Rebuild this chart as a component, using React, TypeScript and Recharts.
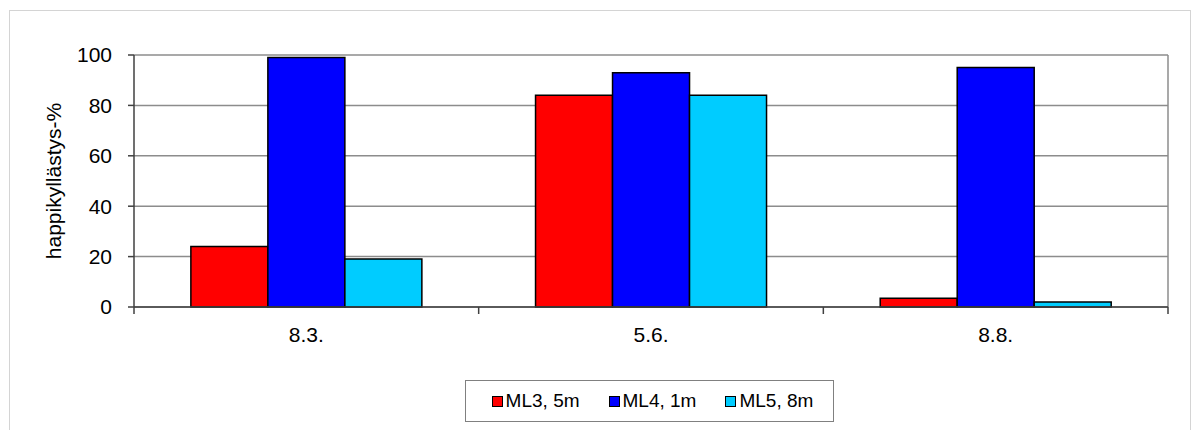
import React from "react";
import {
  BarChart,
  Bar,
  XAxis,
  YAxis,
  CartesianGrid,
} from "recharts";

const dates = ["8.3.", "5.6.", "8.8."];
const ml3 = [24, 84, 3.5];
const ml4 = [99, 93, 95];
const ml5 = [19, 84, 2];
const yTicks = [0, 20, 40, 60, 80, 100];

const seriesInfo = [
  { key: "ml3", name: "ML3, 5m", color: "#ff0000" },
  { key: "ml4", name: "ML4, 1m", color: "#0000ff" },
  { key: "ml5", name: "ML5, 8m", color: "#00ccff" },
];

const data = dates.map((d, i) => ({ date: d, ml3: ml3[i], ml4: ml4[i], ml5: ml5[i] }));

const W = 1192;
const H = 430;
const margin = { top: 55, right: 24, left: 70, bottom: 93 };
const yAxisWidth = 64;
const plotLeft = margin.left + yAxisWidth;
const plotRight = W - margin.right;
const band = (plotRight - plotLeft) / dates.length;
const font = "Arial, 'Liberation Sans', sans-serif";
const axisColor = "#404040";

// category label plus tick marks at the category boundaries
function DateTick(props: any) {
  const { x, y, payload, index } = props;
  const left = x - band / 2;
  const right = x + band / 2;
  return (
    <g>
      <line x1={left} x2={left} y1={y} y2={y + 7} stroke={axisColor} strokeWidth={1.5} />
      {index === dates.length - 1 && (
        <line x1={right} x2={right} y1={y} y2={y + 7} stroke={axisColor} strokeWidth={1.5} />
      )}
      <text
        x={x}
        y={y + 20}
        dy="0.71em"
        textAnchor="middle"
        fill="#000"
        fontSize={21}
        fontFamily={font}
      >
        {payload.value}
      </text>
    </g>
  );
}

function YLabel(props: any) {
  const { viewBox } = props;
  const cx = viewBox.x - 17;
  const cy = viewBox.y + viewBox.height / 2;
  return (
    <text
      x={cx}
      y={cy}
      transform={`rotate(-90 ${cx} ${cy})`}
      textAnchor="middle"
      dominantBaseline="central"
      fill="#000"
      fontSize={21}
      fontFamily={font}
    >
      happikyllästys-%
    </text>
  );
}

function LegendBox() {
  return (
    <div
      style={{
        position: "absolute",
        left: 465,
        top: 380,
        width: 369,
        height: 42,
        border: "1.5px solid #808080",
        boxSizing: "border-box",
        display: "flex",
        alignItems: "center",
        justifyContent: "center",
        gap: 29,
        paddingLeft: 6,
        fontFamily: font,
        fontSize: 19,
        background: "#fff",
      }}
    >
      {seriesInfo.map((s) => (
        <div key={s.key} style={{ display: "flex", alignItems: "center" }}>
          <span
            style={{
              display: "inline-block",
              width: 9,
              height: 9,
              background: s.color,
              border: "1.5px solid #000",
              marginRight: 3,
            }}
          />
          <span>{s.name}</span>
        </div>
      ))}
    </div>
  );
}

export default function App() {
  return (
    <div
      style={{
        position: "absolute",
        left: 0,
        top: 0,
        width: W,
        height: H,
        background: "#fff",
        overflow: "hidden",
      }}
    >
      <div
        style={{
          position: "absolute",
          left: 9,
          top: 10,
          width: W - 10,
          height: H,
          border: "1.5px solid #d4d4d4",
          boxSizing: "border-box",
        }}
      />
      <div style={{ position: "absolute", left: 0, top: 0 }}>
        <BarChart
          width={W}
          height={H}
          data={data}
          margin={margin}
          barCategoryGap="16.5%"
          barGap={0}
        >
          <CartesianGrid
            stroke="#8c8c8c"
            strokeWidth={1.5}
            vertical
            verticalPoints={[plotRight]}
          />
          <XAxis
            dataKey="date"
            axisLine={{ stroke: axisColor, strokeWidth: 1.5 }}
            tickLine={false}
            tickSize={0}
            tickMargin={0}
            height={30}
            interval={0}
            tick={<DateTick />}
          />
          <YAxis
            width={yAxisWidth}
            domain={[0, 100]}
            ticks={yTicks}
            interval={0}
            axisLine={{ stroke: axisColor, strokeWidth: 1.5 }}
            tickLine={{ stroke: axisColor, strokeWidth: 1.5 }}
            tickSize={6}
            tickMargin={16}
            tick={{ fill: "#000", fontSize: 21, fontFamily: font }}
            label={<YLabel />}
          />
          {seriesInfo.map((s) => (
            <Bar
              key={s.key}
              dataKey={s.key}
              name={s.name}
              fill={s.color}
              stroke="#000"
              strokeWidth={1.5}
              isAnimationActive={false}
            />
          ))}
        </BarChart>
      </div>
      <LegendBox />
    </div>
  );
}
